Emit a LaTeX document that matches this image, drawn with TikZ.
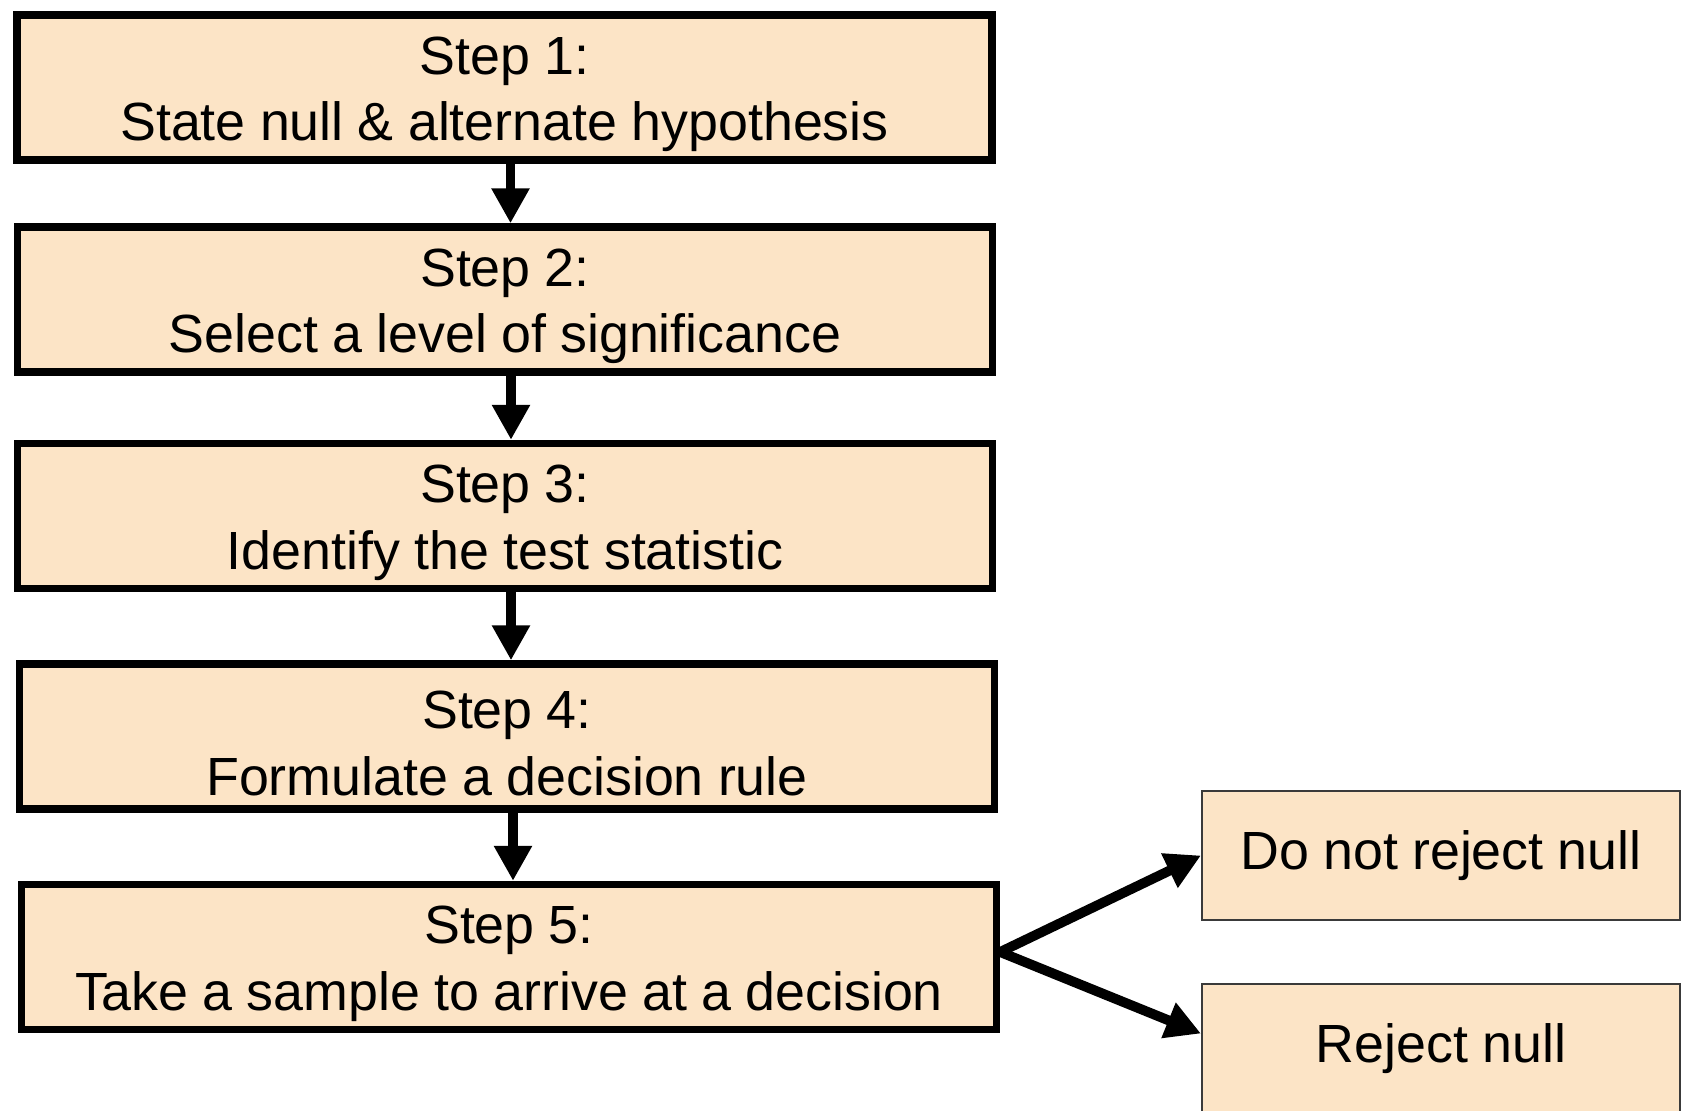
\documentclass[tikz,border=0pt]{standalone}
\usepackage{fontspec}
\setmainfont{Liberation Sans}
\usetikzlibrary{arrows.meta, positioning}
\definecolor{STEPfill}{HTML}{FCE4C6}
\definecolor{STEPedge}{HTML}{000000}
\definecolor{OUTedge}{HTML}{3A3A3A}
\tikzset{
   stepbox/.style={draw=STEPedge, fill=STEPfill, line width=2.1pt,
      minimum width=9.75cm, minimum height=1.45cm, text width=9.5cm,
      align=center, inner sep=0pt,
      font=\fontsize{15.3}{19}\selectfont,
      execute at begin node={\spaceskip=0.265em\relax\rule{0pt}{14.5pt}}},
   outbox/.style={draw=OUTedge, fill=STEPfill, line width=0.6pt,
      minimum width=4.78cm, minimum height=1.29cm, inner sep=0pt,
      font=\fontsize{15.3}{19}\selectfont,
      execute at begin node={\spaceskip=0.265em\relax}},
   flowarrow/.style={-{Triangle[length=0.35cm, width=0.36cm]}, line width=2.8pt}
}
\begin{document}
\begin{tikzpicture}
            \useasboundingbox (0,0) rectangle (16.85,-11.11);
            % Steps
            \node[stepbox] (s1) at (5.045,-0.875) {Step 1:\\State null \& alternate hypothesis};
            \node[stepbox] (s2) at (5.05,-2.995) {Step 2:\\Select a level of significance};
            \node[stepbox] (s3) at (5.05,-5.16) {Step 3:\\Identify the test statistic};
            \node[stepbox] (s4) at (5.07,-7.365) {Step 4:\\Formulate a decision rule};
            \node[stepbox] (s5) at (5.09,-9.57) {Step 5:\\Take a sample to arrive at a decision};
            % Outcomes
            \node[outbox] (keep) at (14.41,-8.555) {Do not reject null};
            \node[outbox] (reject) at (14.41,-10.485) {Reject null};
            % Arrows between steps
            \draw[flowarrow] ([xshift=0.06cm]s1.south) -- ([xshift=0.06cm]s1.south |- s2.north);
            \draw[flowarrow] ([xshift=0.06cm]s2.south) -- ([xshift=0.06cm]s2.south |- s3.north);
            \draw[flowarrow] ([xshift=0.06cm]s3.south) -- ([xshift=0.06cm]s3.south |- s4.north);
            \draw[flowarrow] ([xshift=0.06cm]s4.south) -- ([xshift=0.06cm]s4.south |- s5.north);
            % Decision arrows
            \draw[flowarrow] ([yshift=0.05cm]s5.east) -- (keep.west);
            \draw[flowarrow] ([yshift=0.05cm]s5.east) -- ([yshift=0.15cm]reject.west);
\end{tikzpicture}
\end{document}
